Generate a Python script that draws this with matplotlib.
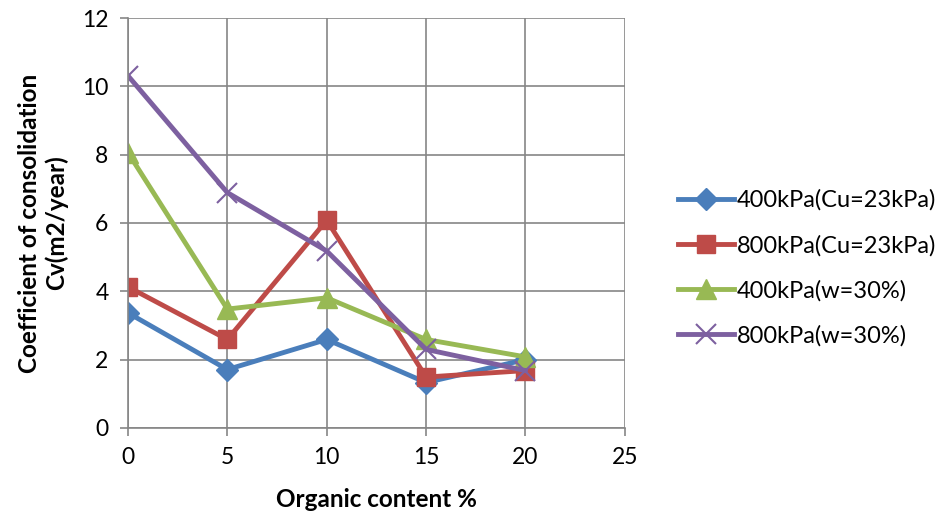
import matplotlib.pyplot as plt

# Organic content (%) and coefficient of consolidation Cv (m2/year)
organic = [0, 5, 10, 15, 20]
cv_400_cu = [3.37, 1.71, 2.59, 1.33, 2.0]
cv_800_cu = [4.13, 2.59, 6.08, 1.49, 1.68]
cv_400_w = [8.06, 3.48, 3.81, 2.59, 2.08]
cv_800_w = [10.31, 6.89, 5.18, 2.30, 1.68]

series_labels = ['400kPa(Cu=23kPa)', '800kPa(Cu=23kPa)', '400kPa(w=30%)', '800kPa(w=30%)']

plt.rcParams['font.family'] = ['Lato', 'DejaVu Sans']

fig = plt.figure(figsize=(9.41, 5.15), dpi=100)
ax = fig.add_axes([0.136, 0.169, 0.528, 0.796])

styles = [
    dict(color='#4A7EBB', marker='D', markersize=11),
    dict(color='#BE4B48', marker='s', markersize=13),
    dict(color='#98B954', marker='^', markersize=14),
    dict(color='#7D60A0', marker='x', markersize=15, markeredgewidth=1.5),
]
for vals, label, st in zip([cv_400_cu, cv_800_cu, cv_400_w, cv_800_w], series_labels, styles):
    ax.plot(organic, vals, linewidth=3.5, label=label, **st)

ax.set_xlim(0, 25)
ax.set_ylim(0, 12)
ax.set_xticks(range(0, 26, 5))
ax.set_yticks(range(0, 13, 2))
ax.grid(True, color='#868686', linewidth=1.2)
ax.set_axisbelow(True)
for side in ['top', 'right', 'left', 'bottom']:
    ax.spines[side].set_color('#868686')
    ax.spines[side].set_linewidth(1.2)
ax.spines['top'].set_visible(False)
ax.spines['right'].set_visible(False)
ax.tick_params(direction='out', length=6, width=1.2, color='#868686',
               labelsize=16.5, pad=8)

ax.set_xlabel('Organic content %', fontsize=17.5, fontweight='bold', labelpad=14)
ax.set_ylabel('Coefficient of consolidation\nCv(m2/year)', fontsize=17.5,
              fontweight='bold', labelpad=10, linespacing=1.2)

fig.legend(*ax.get_legend_handles_labels(), loc='center left',
           bbox_to_anchor=(0.72, 1 - 268 / 515), frameon=False,
           fontsize=17, handlelength=2.4, labelspacing=1.0, handletextpad=0.1,
           borderaxespad=0, borderpad=0)

fig.savefig('out.png', dpi=100)
